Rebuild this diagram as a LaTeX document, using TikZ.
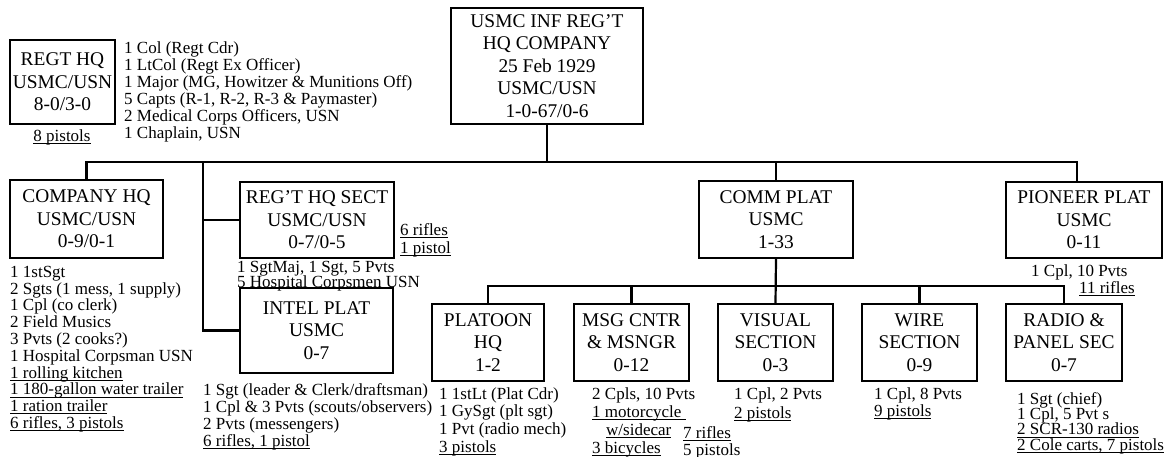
\documentclass[tikz,border=0pt]{standalone}
\usepackage{fontspec}
\setmainfont{Liberation Serif}
\usepackage{tikz}
\usetikzlibrary{positioning}
\newcommand\unitfont{\fontsize{19.4}{22.5}\selectfont}
\newcommand\rosterfont[1]{\fontsize{17}{#1}\selectfont\lineskiplimit=-50pt\relax}
\newcommand\ulin[1]{\setbox0\hbox{#1}\rlap{\rule[-2.7pt]{\wd0}{0.9pt}}\box0}

\begin{document}
\begin{tikzpicture}[x=1pt, y=-1pt,
  unit/.style={draw, line width=1.5pt, inner sep=0pt, align=center, font=\unitfont, minimum height=77pt},
  roster/.style={anchor=west, inner sep=0pt, align=left},
  link/.style={line width=2.2pt},
]
\useasboundingbox (0,0) rectangle (1166,457);
\node[unit, minimum width=192pt, minimum height=116pt] (hq) at (547,66) {USMC INF REG'T\\HQ COMPANY\\25 Feb 1929\\USMC/USN\\1-0-67/0-6};

\node[unit, minimum width=105pt, minimum height=84pt] (regt) at (62.5,82) {REGT HQ\\USMC/USN\\8-0/3-0};
\node[roster, anchor=center, font=\rosterfont{17}] (regtarms) at (62,137) {\ulin{8 pistols}};
\node[roster, font=\rosterfont{17}] (regtstaff) at (124,92)
  {1 Col (Regt Cdr)\\1 LtCol (Regt Ex Officer)\\1 Major (MG, Howitzer \& Munitions Off)\\5 Capts (R-1, R-2, R-3 \& Paymaster)\\2 Medical Corps Officers, USN\\1 Chaplain, USN};

\node[unit, minimum width=153pt, minimum height=78pt] (coy) at (86.5,219) {COMPANY HQ\\USMC/USN\\0-9/0-1};
\node[roster, font=\rosterfont{16.8}] (coystaff) at (10,349)
  {1 1stSgt\\2 Sgts (1 mess, 1 supply)\\1 Cpl (co clerk)\\2 Field Musics\\3 Pvts (2 cooks?)\\1 Hospital Corpsman USN\\\ulin{1 rolling kitchen}\\\ulin{1 180-gallon water trailer}\\\ulin{1 ration trailer}\\\ulin{6 rifles, 3 pistols}};

\node[unit, minimum width=154pt, minimum height=76pt] (sect) at (317,220) {REG'T HQ SECT\\USMC/USN\\0-7/0-5};
\node[roster, font=\rosterfont{18}] (sectarms) at (400,240) {\ulin{6 rifles}\\\ulin{1 pistol}};
\node[roster, font=\rosterfont{15.5}] (sectstaff) at (237,276) {1 SgtMaj, 1 Sgt, 5 Pvts\\5 Hospital Corpsmen USN};

\node[unit, minimum width=153pt, minimum height=85pt] (intel) at (316.5,330.5) {INTEL PLAT\\USMC\\0-7};
\node[roster, font=\rosterfont{16.8}] (intelstaff) at (203,417)
  {1 Sgt (leader \& Clerk/draftsman)\\1 Cpl \& 3 Pvts (scouts/observers)\\2 Pvts (messengers)\\\ulin{6 rifles, 1 pistol}};

\node[unit, minimum width=154pt] (comm) at (776,219.5) {COMM PLAT\\USMC\\1-33};
\node[unit, minimum width=156pt, minimum height=76pt] (pion) at (1084,220) {PIONEER PLAT\\USMC\\0-11};
\node[roster, font=\rosterfont{17}] (pionstaff) at (1031,280.5) {1 Cpl, 10 Pvts\\\hspace*{48pt}\ulin{11 rifles}};

\node[unit, minimum width=112pt] (plt) at (488,342.5) {PLATOON\\HQ\\1-2};
\node[unit, minimum width=115pt] (msg) at (631.5,342.5) {MSG CNTR\\\& MSNGR\\0-12};
\node[unit, minimum width=115pt] (vis) at (775.5,342.5) {VISUAL\\SECTION\\0-3};
\node[unit, minimum width=115pt] (wire) at (919.5,342.5) {WIRE\\SECTION\\0-9};
\node[unit, minimum width=116pt] (radio) at (1064,342.5) {RADIO \&\\PANEL SEC\\0-7};

\node[roster, font=\rosterfont{17.7}] (pltstaff) at (439,421.5) {1 1stLt (Plat Cdr)\\1 GySgt (plt sgt)\\1 Pvt (radio mech)\\\ulin{3 pistols}};
\node[roster, font=\rosterfont{18}] (msgstaff) at (592,422) {2 Cpls, 10 Pvts\\\ulin{1 motorcycle\ }\\\hspace*{14pt}\ulin{w/sidecar}\\\ulin{3 bicycles}};
\node[roster, font=\rosterfont{17}] (msgarms) at (683,442.5) {\ulin{7 rifles}\\\ulin{5 pistols}};
\node[roster, font=\rosterfont{19}] (visstaff) at (734,404.5) {1 Cpl, 2 Pvts\\\ulin{2 pistols}};
\node[roster, font=\rosterfont{17}] (wirestaff) at (874,403.5) {1 Cpl, 8 Pvts\\\ulin{9 pistols}};
\node[roster, font=\rosterfont{15.3}] (radiostaff) at (1017,423) {1 Sgt (chief)\\1 Cpl, 5 Pvt s\\\ulin{2 SCR-130 radios}\\\ulin{2 Cole carts, 7 pistols}};

\coordinate (bus) at (547,162);
\coordinate (spine) at (203,162);
\coordinate (subbus) at (776,286);
\draw[link] (hq.south) -- (bus);
\draw[link] (coy.north) -- (coy.north|-bus) -- ([xshift=-7pt]pion.north|-bus) -- ([xshift=-7pt]pion.north);
\draw[link] (spine) -- (spine|-intel.west) -- (intel.west);
\draw[link] (spine|-sect.west) -- (sect.west);
\draw[link] (comm.north|-bus) -- (comm.north);
\draw[link] (comm.south) -- (vis.north);
\draw[link] (plt.north) -- (plt.north|-subbus) -- (radio.north|-subbus) -- (radio.north);
\draw[link] (msg.north|-subbus) -- (msg.north);
\draw[link] (wire.north|-subbus) -- (wire.north);
\end{tikzpicture}
\end{document}
